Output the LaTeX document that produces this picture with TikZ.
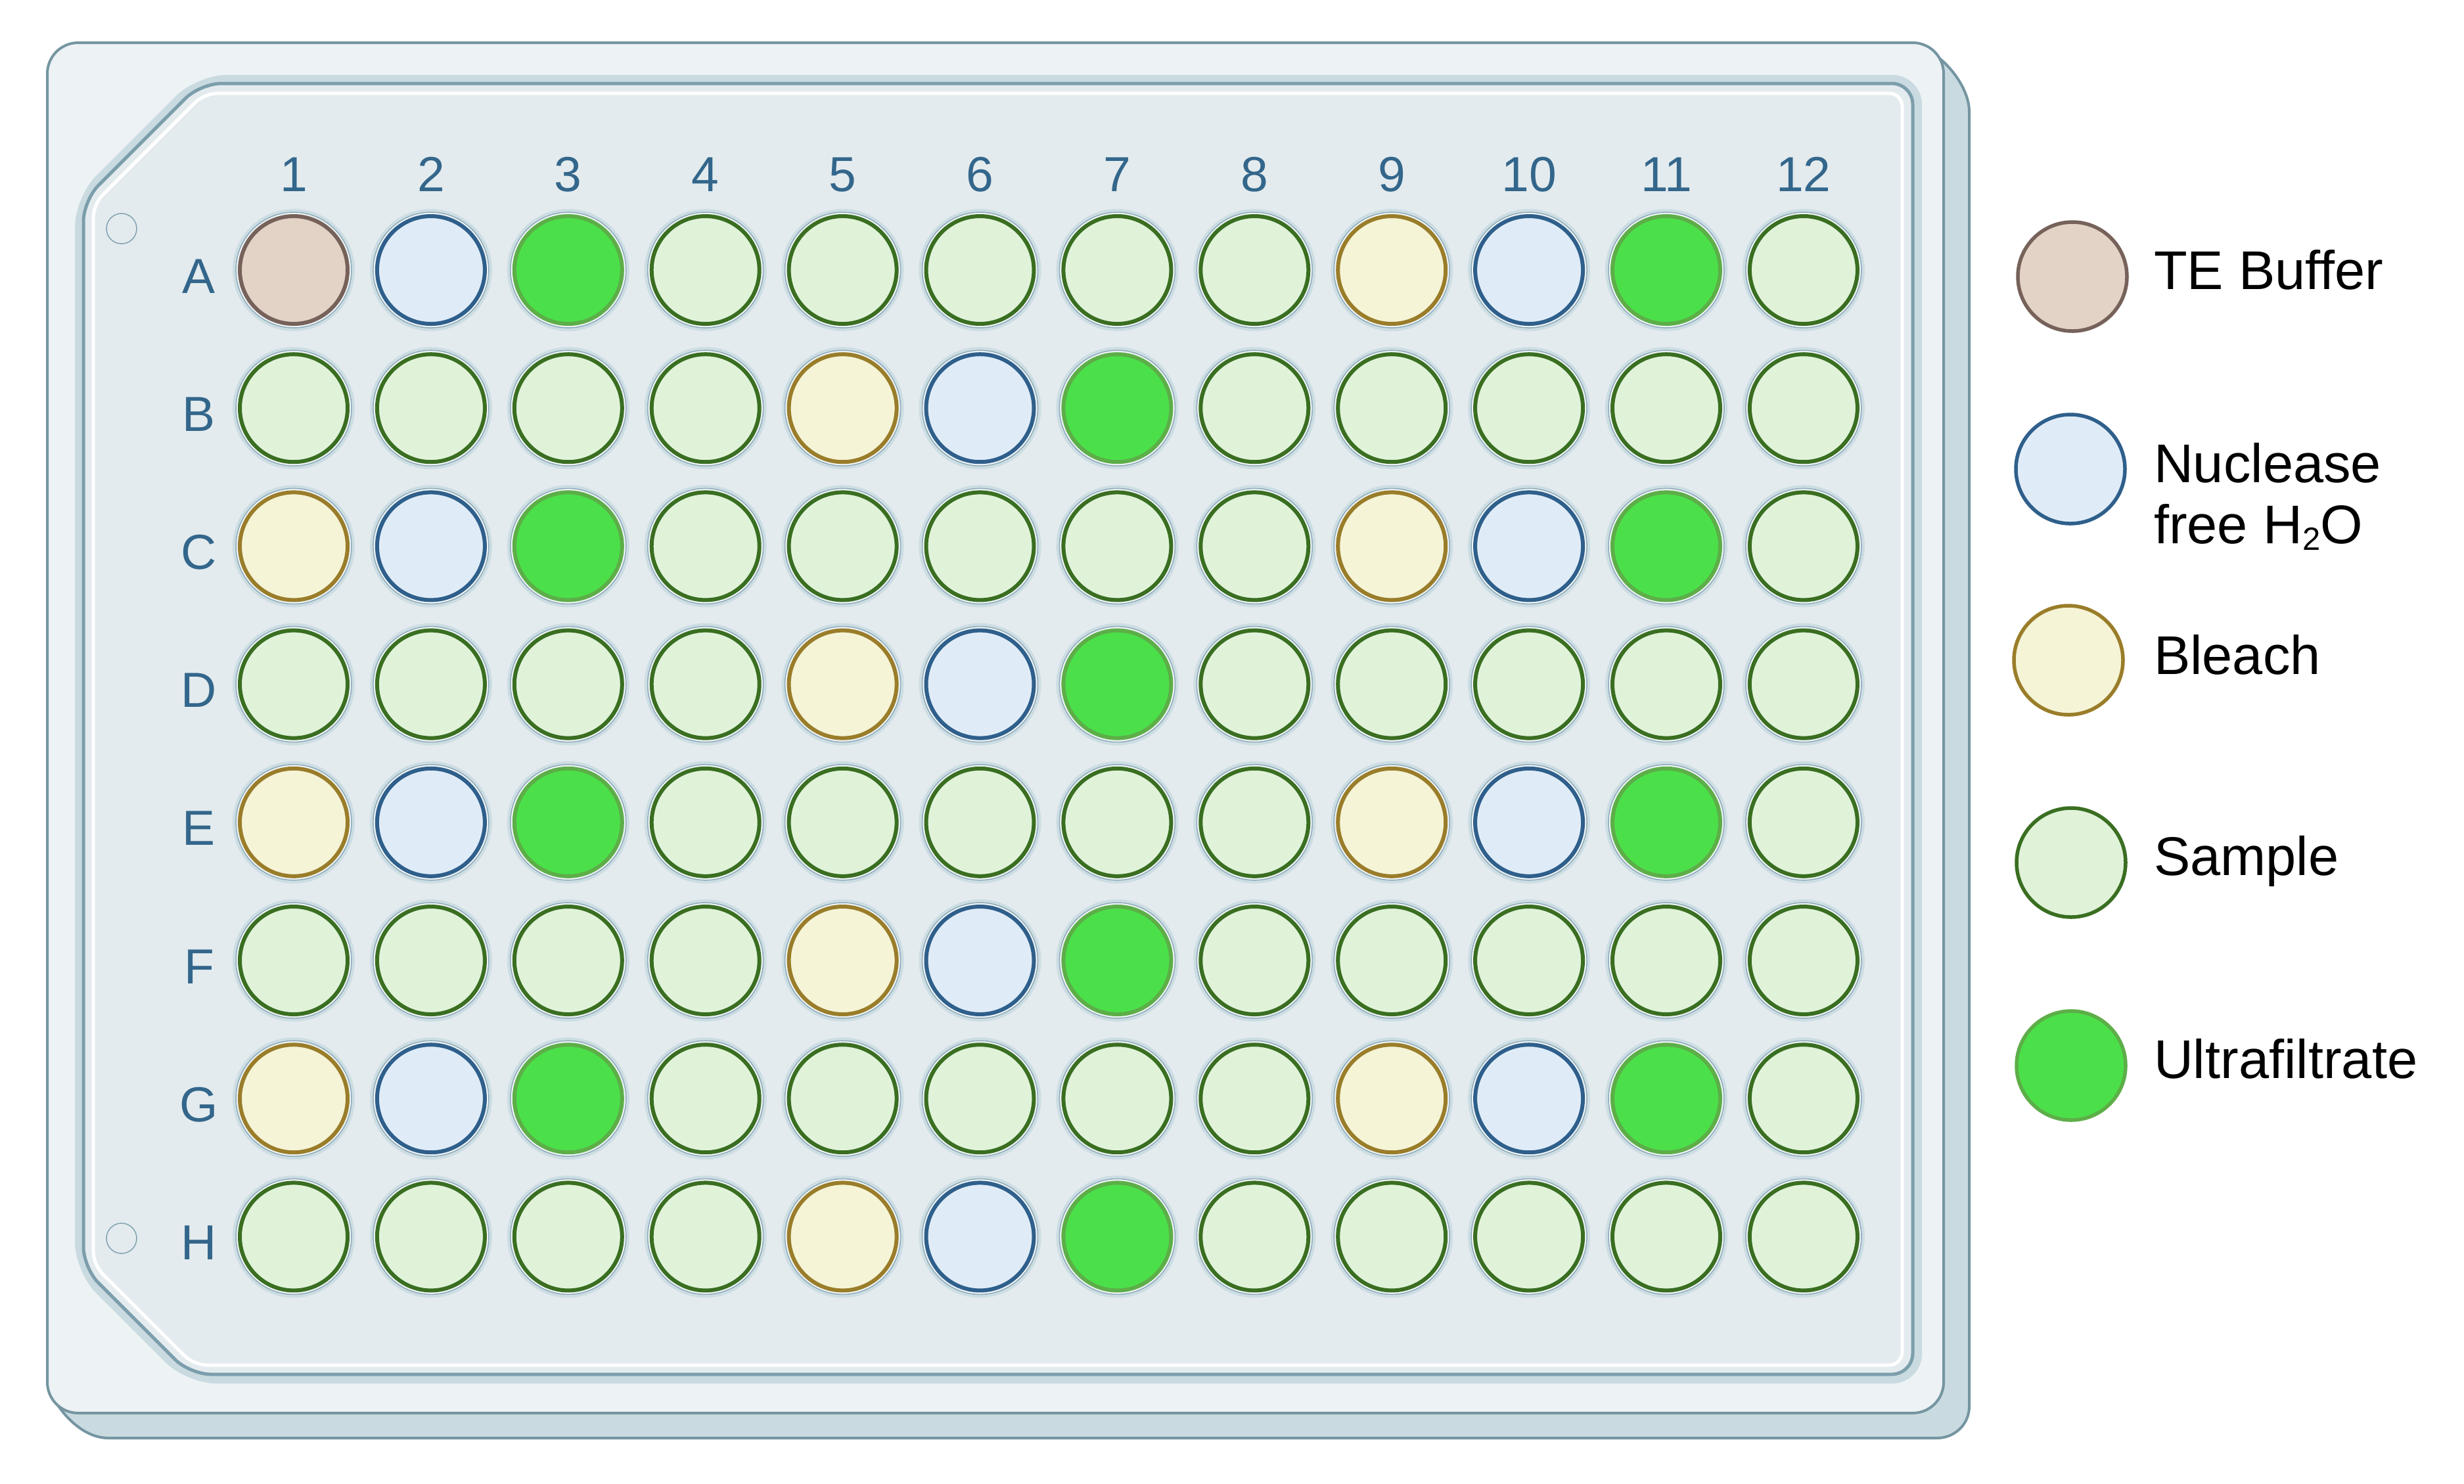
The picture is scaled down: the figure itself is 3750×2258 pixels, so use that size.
\documentclass[tikz,border=0pt]{standalone}
\usepackage{fontspec}
\setmainfont{Liberation Sans}
\definecolor{fT}{HTML}{E3D3C6}\definecolor{dT}{HTML}{76625A}
\definecolor{fN}{HTML}{DFECF8}\definecolor{dN}{HTML}{2F5F8B}
\definecolor{fB}{HTML}{F5F4D7}\definecolor{dB}{HTML}{9A7D2A}
\definecolor{fS}{HTML}{E0F3D9}\definecolor{dS}{HTML}{3A6E21}
\definecolor{fU}{HTML}{4BE04A}\definecolor{dU}{HTML}{5DAE48}
\definecolor{plateface}{HTML}{EDF2F5}
\definecolor{plateside}{HTML}{C9DBE0}
\definecolor{plateedge}{HTML}{7595A1}
\definecolor{panel}{HTML}{E3EBEE}
\definecolor{band}{HTML}{C9DBE0}
\definecolor{bandline}{HTML}{7C9EAC}
\definecolor{halo}{HTML}{CCDDE3}
\definecolor{ringline}{HTML}{8EABB8}
\definecolor{ringfill}{HTML}{F0F5F7}
\definecolor{labelblue}{HTML}{33668B}
\definecolor{holeline}{HTML}{82A2B0}
% #1 options, #2 L, #3 T, #4 R, #5 B, #6 top chamfer, #7 bottom chamfer
\newcommand\chamfshape[7]{\path[#1] (#2,{(#3+#5)/2}) -- (#2,#3+#6) -- (#2+#6,#3) -- (#4,#3) -- (#4,#5) -- (#2+#7,#5) -- (#2,#5-#7) -- cycle;}
\tikzset{
  platelabel/.style={inner sep=0pt, text=labelblue, font=\fontsize{15pt}{18pt}\selectfont, anchor=base},
  legendtext/.style={inner sep=0pt, text=black, font=\fontsize{16.6pt}{18.6pt}\selectfont, anchor=base west, align=left},
  wellhalo/.style={fill=halo},
  wellring/.style={fill=ringfill, draw=ringline, line width=0.3pt},
  legendwell/.style={line width=1.1pt},
}
\begin{document}
\begin{tikzpicture}[x=0.2pt,y=-0.2pt]
\fill[white] (0,0) rectangle (3750,2258);
\useasboundingbox (0,0) rectangle (3750,2258);
% side / extrusion
\draw[fill=plateside, draw=plateedge, line width=0.8pt]
  (2900,65) .. controls (2945,68) and (2997,125) .. (2997,170) -- (2997,2141)
  .. controls (2997,2168) and (2975,2189) .. (2948,2189) -- (165,2189)
  .. controls (125,2189) and (92,2150) .. (80,2125) -- cycle;
% front face
\draw[fill=plateface, draw=plateedge, line width=0.8pt, rounded corners=9.4pt] (72,65) rectangle (2958,2151);
% raised band and panel
\chamfshape{fill=band, rounded corners=9pt}{114}{114}{2925}{2106}{186}{170}
\chamfshape{fill=panel, draw=bandline, line width=1pt, rounded corners=6.4pt}{127}{127}{2911}{2092}{178}{162}
\chamfshape{draw=white, line width=1pt, rounded corners=4pt}{142}{142}{2895}{2078}{169}{153}
% holes
\draw[draw=holeline, line width=0.3pt] (185,348) circle[radius=23];
\draw[draw=holeline, line width=0.3pt] (185,1885) circle[radius=23];
% column labels
\foreach \c in {1,...,12}{
  \node[platelabel] (col-\c) at ({447+(\c-1)*208.9},291) {\c};
}
% wells
\foreach \lab/\kinds [count=\r from 0] in {
  A/{T,N,U,S,S,S,S,S,B,N,U,S},
  B/{S,S,S,S,B,N,U,S,S,S,S,S},
  C/{B,N,U,S,S,S,S,S,B,N,U,S},
  D/{S,S,S,S,B,N,U,S,S,S,S,S},
  E/{B,N,U,S,S,S,S,S,B,N,U,S},
  F/{S,S,S,S,B,N,U,S,S,S,S,S},
  G/{B,N,U,S,S,S,S,S,B,N,U,S},
  H/{S,S,S,S,B,N,U,S,S,S,S,S}}{
  \node[platelabel] (row-\lab) at (303,{446+\r*210.2}) {\lab};
  \foreach \k [count=\c from 0] in \kinds {
    \fill[wellhalo] ({447+\c*208.9},{411+\r*210.2}) circle[radius=93];
    \draw[wellring] ({447+\c*208.9},{411+\r*210.2}) circle[radius=88];
    \draw[fill=f\k, draw=d\k, line width=1.2pt] ({447+\c*208.9},{411+\r*210.2}) circle[radius=82];
  }
}
% legend
\draw[legendwell, fill=fT, draw=dT] (3154,421) circle[radius=83];
\draw[legendwell, fill=fN, draw=dN] (3151,714) circle[radius=83];
\draw[legendwell, fill=fB, draw=dB] (3148,1005) circle[radius=83];
\draw[legendwell, fill=fS, draw=dS] (3152,1313) circle[radius=83];
\draw[legendwell, fill=fU, draw=dU] (3152,1622) circle[radius=83];
\node[legendtext] (lg-te) at (3277,440) {TE Buffer};
\node[legendtext] (lg-nf) at (3277,827) {Nuclease\\free H\raisebox{-2pt}{\fontsize{9.8pt}{10pt}\selectfont 2}O};
\node[legendtext] (lg-bl) at (3277,1026) {Bleach};
\node[legendtext] (lg-sa) at (3277,1332) {Sample};
\node[legendtext] (lg-uf) at (3277,1641) {Ultrafiltrate};
\end{tikzpicture}
\end{document}
